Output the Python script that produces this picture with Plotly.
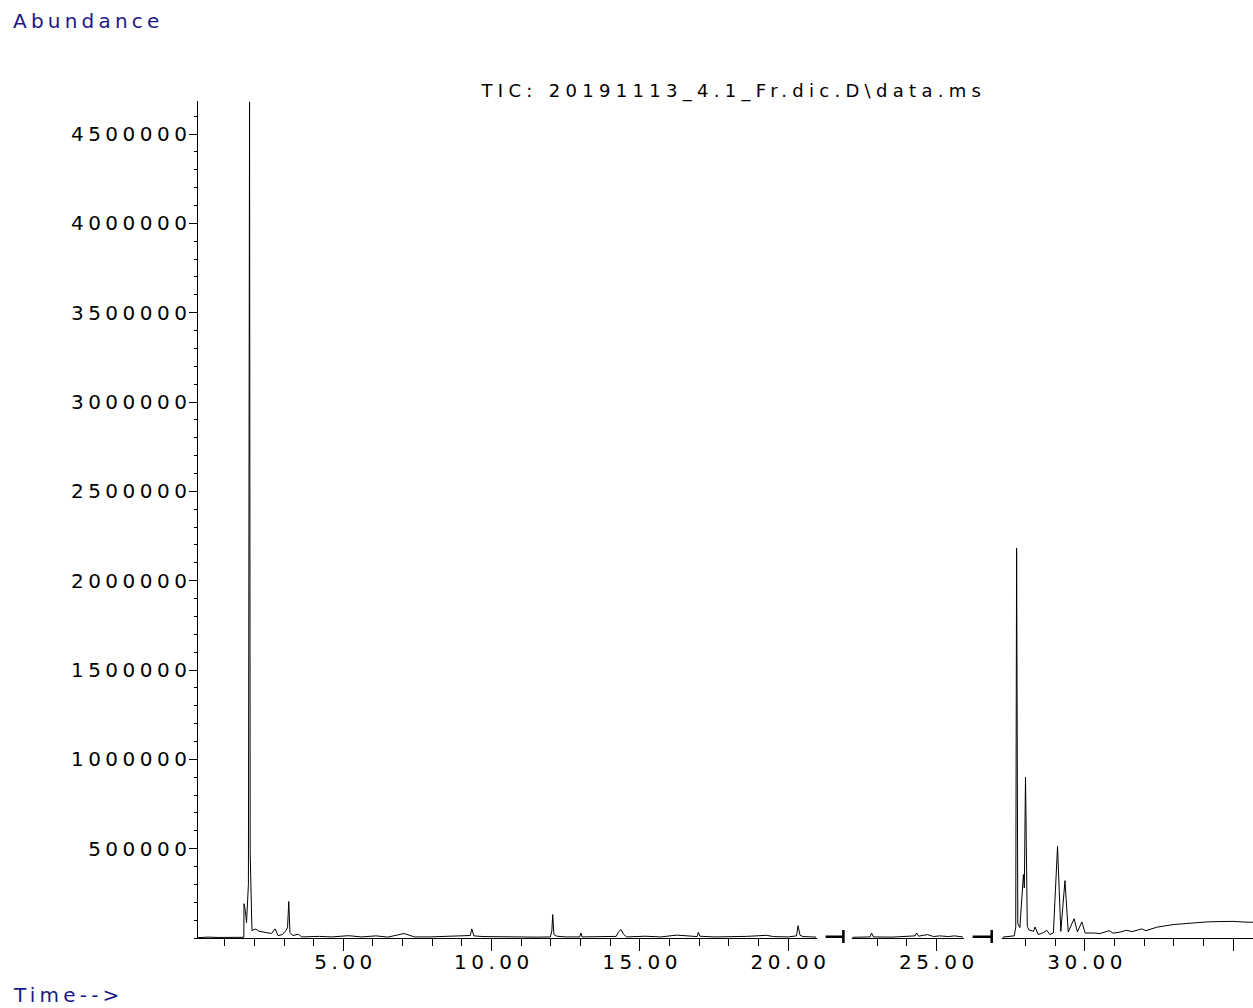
import plotly.graph_objects as go

# Total ion chromatogram: retention time (min) vs abundance.
# None entries mark the two acquisition breaks where no scans were recorded.
retention_time = [
    0.10, 0.44, 0.80, 1.20, 1.60, 1.645, 1.652, 1.70, 1.736, 1.80, 1.838, 1.86, 1.89, 1.92,
    1.95, 2.05, 2.15, 2.30, 2.45, 2.58, 2.70, 2.80, 2.95, 3.07, 3.12, 3.16, 3.20, 3.30,
    3.48, 3.60, 4.20, 4.60, 5.18, 5.60, 6.10, 6.50, 7.05, 7.40, 7.90, 8.49, 9.16, 9.28,
    9.33, 9.40, 9.71, 10.40, 11.00, 11.50, 11.98, 12.03, 12.06, 12.10, 12.20, 12.50,
    12.97, 13.01, 13.05, 13.60, 14.20, 14.28, 14.36, 14.45, 14.55, 15.17, 15.70, 16.24,
    16.50, 16.93, 16.97, 17.02, 17.50, 18.04, 18.60, 19.27, 19.50, 20.00, 20.28, 20.33,
    20.40, 20.50, 20.94,
    None,
    22.17, 22.50, 22.76, 22.81, 22.87, 23.50, 24.16, 24.28, 24.33, 24.40, 24.55, 24.70,
    24.90, 25.10, 25.40, 25.60, 25.89,
    None,
    27.23, 27.50, 27.62, 27.67, 27.70, 27.74, 27.81, 27.93, 27.96, 28.00, 28.06, 28.12,
    28.27, 28.32, 28.43, 28.60, 28.72, 28.82, 28.94, 29.08, 29.19, 29.33, 29.44, 29.64,
    29.75, 29.90, 30.01, 30.28, 30.51, 30.82, 30.95, 31.19, 31.40, 31.59, 31.92, 32.06,
    32.42, 32.97, 33.55, 34.11, 34.56, 35.00, 35.40, 35.70,
]
abundance = [
    2000, 5000, 3000, 3000, 4000, 4000, 192000, 150000, 86000, 300000, 4680000, 480000, 250000, 40000,
    45000, 50000, 38000, 33000, 27000, 25000, 51000, 13000, 20000, 43000, 60000, 204000, 30000, 14000,
    21000, 6000, 9000, 6000, 13000, 6000, 12000, 5000, 25000, 6000, 6000, 9000, 15000, 14000,
    51000, 12000, 8000, 6000, 8000, 5000, 6000, 40000, 131000, 20000, 10000, 6000,
    6000, 28000, 6000, 6000, 9000, 35000, 47000, 20000, 6000, 10000, 6000, 16000,
    12000, 8000, 32000, 10000, 6000, 7000, 9000, 15000, 8000, 6000, 12000, 69000,
    15000, 8000, 5000,
    None,
    4000, 5000, 6000, 28000, 6000, 5000, 10000, 12000, 28000, 10000, 15000, 19000,
    8000, 12000, 8000, 12000, 6000,
    None,
    5000, 8000, 12000, 60000, 2182000, 80000, 58000, 355000, 280000, 901000, 65000, 45000,
    37000, 62000, 19000, 30000, 43000, 19000, 28000, 513000, 37000, 321000, 34000, 108000,
    34000, 90000, 28000, 28000, 25000, 41000, 27000, 33000, 43000, 36000, 51000, 41000,
    60000, 75000, 84000, 90000, 92000, 93000, 89000, 88000,
]

# Acquisition breaks: bar start, bar end (the end carries the vertical stroke)
break_bar_start = [21.26, 26.22]
break_bar_end = [21.86, 26.86]
# Time spans where the trace and axis are interrupted
gap_start = [20.97, 25.92]
gap_end = [22.14, 27.20]

y_tick_values = [500000, 1000000, 1500000, 2000000, 2500000, 3000000, 3500000, 4000000, 4500000]
y_tick_labels = ["500000", "1000000", "1500000", "2000000", "2500000",
                 "3000000", "3500000", "4000000", "4500000"]

title_text = "TIC: 20191113_4.1_Fr.dic.D\\data.ms"
y_label = "Abundance"
x_label = "Time-->"

FONT = "DejaVu Sans"
NAVY = "#1a1a86"

fig = go.Figure()
fig.add_trace(go.Scatter(
    x=retention_time, y=abundance, mode="lines",
    line=dict(color="black", width=1), connectgaps=False,
    hoverinfo="skip", showlegend=False,
))

shapes = []
for g0, g1 in zip(gap_start, gap_end):
    shapes.append(dict(type="rect", xref="x", yref="paper", x0=g0, x1=g1,
                       y0=-0.016, y1=0.004, fillcolor="white", line=dict(width=0),
                       layer="above"))
for b0, b1 in zip(break_bar_start, break_bar_end):
    shapes.append(dict(type="line", xref="x", yref="paper", x0=b0, x1=b1,
                       y0=0.0015, y1=0.0015, line=dict(color="black", width=2.5),
                       layer="above"))
    shapes.append(dict(type="line", xref="x", yref="paper", x0=b1, x1=b1,
                       y0=-0.006, y1=0.0096, line=dict(color="black", width=2.5),
                       layer="above"))

annotations = [
    dict(text=title_text, xref="paper", yref="paper", x=0.505, y=1.0125,
         xanchor="center", yanchor="middle", showarrow=False,
         font=dict(family=FONT, size=18, color="black")),
    dict(text=y_label, xref="paper", yref="paper", x=-0.1773, y=1.0956,
         xanchor="left", yanchor="middle", align="left", showarrow=False,
         font=dict(family=FONT, size=20, color=NAVY)),
    dict(text=x_label, xref="paper", yref="paper", x=-0.1773, y=-0.0685,
         xanchor="left", yanchor="middle", align="left", showarrow=False,
         font=dict(family=FONT, size=20, color=NAVY)),
]

fig.update_layout(
    width=1253, height=1008, autosize=False,
    margin=dict(l=198, r=0, t=101, b=70, pad=0),
    paper_bgcolor="white", plot_bgcolor="white",
    shapes=shapes, annotations=annotations,
    xaxis=dict(
        range=[0.10, 35.67], tickmode="linear", tick0=0, dtick=5, tickformat=".2f",
        ticks="outside", ticklen=12, tickwidth=1, tickcolor="black",
        ticklabelstandoff=-6,
        showline=True, linecolor="black", linewidth=1,
        showgrid=False, zeroline=False,
        tickfont=dict(family=FONT, size=20, color="black"),
        minor=dict(ticks="outside", ticklen=7, tickwidth=1, tickcolor="black",
                   tickmode="linear", tick0=0, dtick=1, showgrid=False),
    ),
    yaxis=dict(
        range=[0, 4685000], tickmode="array", tickvals=y_tick_values, ticktext=y_tick_labels,
        ticks="outside", ticklen=8, tickwidth=1, tickcolor="black",
        ticklabelstandoff=-2,
        showline=True, linecolor="black", linewidth=1,
        showgrid=False, zeroline=False,
        tickfont=dict(family=FONT, size=20, color="black"),
        minor=dict(ticks="outside", ticklen=3, tickwidth=1, tickcolor="black",
                   tickmode="linear", tick0=0, dtick=100000, showgrid=False),
    ),
)

# Widen the lettering of labels to the broad instrument-report typeface spacing
post = """
var gd = document.getElementById('{plot_id}');
function widen() {
  gd.querySelectorAll('.xtick text').forEach(function (t) {
    t.style.letterSpacing = '4.5px'; t.setAttribute('dx', '2.25');
  });
  gd.querySelectorAll('.ytick text').forEach(function (t) {
    t.style.letterSpacing = '4.5px'; t.setAttribute('dx', '4.5');
  });
  gd.querySelectorAll('.annotation-text').forEach(function (t, i) {
    t.style.letterSpacing = (i === 0) ? '5.3px' : '4.2px';
    if (i === 0) { t.setAttribute('dx', '2.6'); }
  });
}
widen();
gd.on('plotly_afterplot', widen);
"""

fig.write_html("out.html", post_script=post)
